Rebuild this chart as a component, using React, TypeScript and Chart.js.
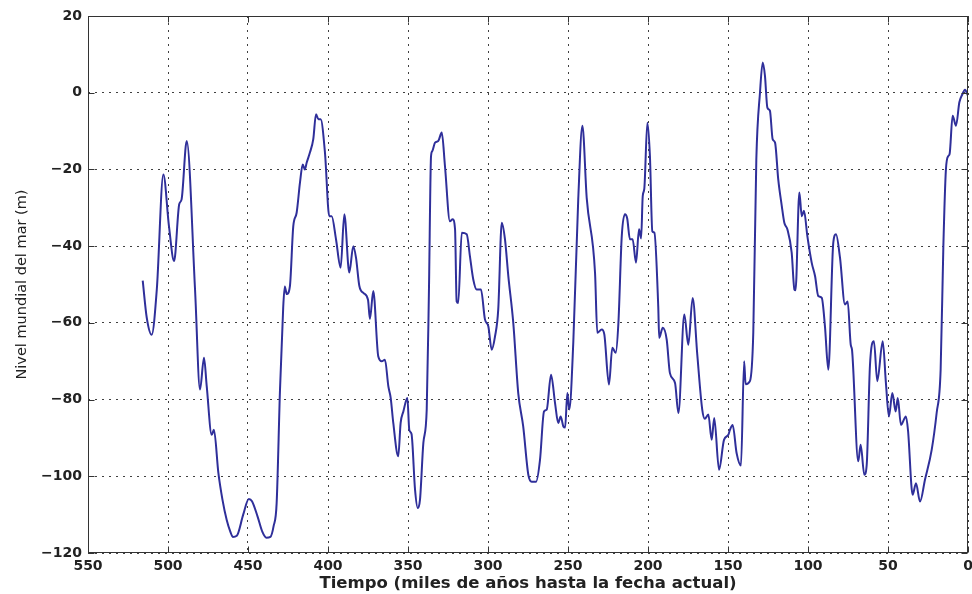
import React, { useEffect, useRef } from "react";
import { Chart, registerables } from "chart.js";

Chart.register(...registerables);

// Age in thousands of years before present (x axis, reversed)
const ages: number[] = [
  515.8, 513.3, 510.2, 507.0, 502.9, 499.4, 496.2, 493.0, 491.5, 488.3,
  483.1, 480.0, 477.5, 475.8, 472.7, 471.3, 468.5, 466.0, 463.3, 461.0,
  459.5, 457.0, 453.0, 449.5, 447.5, 444.0, 441.0, 438.5, 436.0, 434.0,
  432.1, 430.0, 428.0, 427.0, 425.8, 423.8, 421.7, 419.6,
  417.5, 415.8, 414.5, 413.3, 411.3, 409.2, 407.5, 406.0, 404.6, 401.9,
  399.2, 397.7, 395.0, 392.1, 389.8, 386.7, 384.2, 382.5, 380.4, 377.9,
  375.0, 373.8, 371.7, 368.6, 366.4, 364.4, 362.3, 360.8, 359.2, 356.1,
  354.6, 352.9, 350.4, 349.2, 347.8, 345.6, 343.9, 342.5, 340.4, 338.3,
  336.9, 335.6, 334.8, 333.1, 331.1, 328.9, 326.9, 323.8, 322.1, 320.6,
  319.6, 318.6, 316.4, 313.3, 311.3, 309.2, 307.1, 304.4, 301.9, 299.8,
  297.7, 295.6, 293.6, 291.4, 289.4, 287.3, 284.2, 281.1, 278.0, 274.8,
  272.7, 270.0, 267.5, 265.0, 263.3, 260.6, 258.1, 256.1, 254.6, 252.9,
  251.8, 250.4, 249.2, 246.7, 243.6, 241.0, 238.3, 233.1, 231.7, 228.9,
  227.3, 224.4, 222.3, 220.2, 218.5, 216.4, 214.4, 213.0, 211.3, 209.6,
  207.5, 205.6, 204.3, 203.3, 202.3, 200.4, 198.8, 197.3, 196.0, 193.6,
  193.0, 190.8, 188.3, 186.3, 183.1, 181.0, 177.3, 174.8, 172.1, 169.2,
  166.1, 164.5, 162.3, 160.2, 158.6, 155.6, 152.5, 149.8, 148.8, 147.1,
  144.6, 141.9, 139.9, 139.0, 136.3, 134.2, 132.3, 130.0, 128.3, 126.9,
  125.4, 123.8, 122.1, 120.6, 118.6, 116.4, 114.8, 112.9, 110.2, 108.5,
  107.8, 105.4, 103.9, 102.5, 100.4, 97.7, 95.6, 93.6, 91.4, 89.4,
  87.3, 84.2, 82.5, 80.0, 76.9, 75.2, 73.3, 72.5, 68.6, 67.1,
  64.8, 63.3, 61.3, 58.8, 56.7, 53.3, 51.3, 49.4, 47.3, 45.2,
  43.9, 41.9, 38.8, 37.5, 34.6, 32.5, 30.0, 26.9, 22.7, 19.6,
  17.1, 15.4, 13.8, 12.3, 11.5, 9.6, 7.5, 5.4, 3.5, 1.9,
  0.0,
];

// Global sea level in metres
const seaLevel: number[] = [
  -49.0, -58.6, -63.1, -51.3, -21.3, -34.8, -43.9, -29.1, -27.8, -12.6,
  -51.3, -77.4, -69.1, -76.5, -89.2, -87.9, -99.2, -106.0, -111.4, -114.5,
  -115.8, -115.5, -110.0, -105.9, -106.5, -110.5, -114.5, -116.0, -115.8, -113.0,
  -107.0, -77.4, -56.0, -50.5, -52.5, -50.4, -34.8, -31.3,
  -23.4, -18.7, -20.0, -18.2, -15.6, -12.1, -5.6, -6.9, -6.9, -15.6,
  -32.2, -32.2, -38.2, -45.6, -31.7, -46.9, -40.0, -43.0, -50.4, -52.2,
  -54.0, -59.0, -51.7, -68.7, -70.0, -69.6, -76.5, -79.6, -86.1, -94.8,
  -86.1, -83.1, -79.6, -87.9, -89.0, -103.5, -108.3, -106.1, -91.3, -82.6,
  -51.3, -16.5, -15.2, -13.0, -12.6, -10.4, -19.1, -33.5, -33.0, -35.6,
  -54.4, -54.8, -36.5, -36.9, -42.6, -48.7, -51.3, -51.3, -59.1, -60.9,
  -67.0, -63.5, -56.5, -33.9, -38.2, -47.8, -60.0, -78.3, -87.0, -99.6,
  -101.4, -101.4, -95.7, -83.1, -82.6, -73.5, -80.9, -86.1, -84.4, -87.0,
  -87.3, -78.3, -82.6, -65.2, -27.8, -8.6, -27.5, -47.0, -62.6, -61.7,
  -63.0, -76.1, -66.5, -67.8, -60.0, -37.4, -31.7, -32.8, -38.2, -38.2,
  -44.3, -35.6, -38.0, -27.0, -25.0, -7.8, -16.5, -36.1, -36.5, -55.7,
  -63.9, -61.3, -64.4, -73.1, -75.7, -83.5, -57.8, -65.7, -53.5, -68.3,
  -82.6, -85.0, -83.9, -90.5, -84.8, -98.3, -90.5, -89.2, -87.9, -86.6,
  -94.0, -97.2, -70.0, -76.0, -75.2, -62.6, -17.5, 0.1, 7.9, 4.4,
  -3.9, -4.7, -12.1, -13.0, -22.6, -29.5, -33.9, -35.6, -41.7, -51.3,
  -51.5, -26.0, -32.2, -30.8, -37.4, -44.3, -47.8, -53.0, -53.5, -60.9,
  -72.2, -39.1, -36.9, -43.0, -55.2, -54.4, -65.7, -67.0, -96.1, -91.8,
  -99.6, -97.0, -71.3, -64.8, -75.2, -64.8, -75.7, -84.4, -78.3, -83.1,
  -79.6, -86.6, -84.4, -88.0, -104.8, -101.8, -106.6, -100.9, -93.1, -83.5,
  -72.2, -40.0, -20.0, -16.5, -16.0, -6.0, -8.6, -2.5, -0.4, 0.75,
  -0.8,
];

const xTitle = "Tiempo (miles de años hasta la fecha actual)";
const yTitle = "Nivel mundial del mar (m)";
const xMin = 0;
const xMax = 550;
const xStep = 50;
const yMin = -120;
const yMax = 20;
const yStep = 20;

const FONT = "'DejaVu Sans', 'Liberation Sans', Arial, sans-serif";

const fmt = (v: number | string) => {
  const n = Number(v);
  return n < 0 ? "\u2212" + Math.abs(n) : String(n);
};

const framePlugin = {
  id: "matlabFrame",
  afterDraw(chart: any) {
    const { ctx, chartArea: a, scales } = chart;
    const L = Math.round(a.left) + 0.5;
    const R = Math.round(a.right) - 0.5;
    const T = Math.round(a.top) + 0.5;
    const B = Math.round(a.bottom) - 0.5;
    ctx.save();
    ctx.strokeStyle = "#333";
    ctx.lineWidth = 1;
    ctx.setLineDash([]);
    ctx.strokeRect(L, T, R - L, B - T);
    ctx.beginPath();
    const tl = 6;
    for (const t of scales.x.ticks) {
      const px = Math.round(scales.x.getPixelForValue(t.value)) + 0.5;
      ctx.moveTo(px, B);
      ctx.lineTo(px, B - tl);
      ctx.moveTo(px, T);
      ctx.lineTo(px, T + tl);
    }
    for (const t of scales.y.ticks) {
      const py = Math.round(scales.y.getPixelForValue(t.value)) + 0.5;
      ctx.moveTo(L, py);
      ctx.lineTo(L + tl, py);
      ctx.moveTo(R, py);
      ctx.lineTo(R - tl, py);
    }
    ctx.stroke();
    ctx.restore();
  },
};

export default function App() {
  const ref = useRef<HTMLCanvasElement | null>(null);

  useEffect(() => {
    if (!ref.current) return;
    const points = ages.map((a, i) => ({ x: a, y: seaLevel[i] }));
    const chart = new Chart(ref.current, {
      type: "line",
      data: {
        datasets: [
          {
            data: points,
            borderColor: "#2f2f9a",
            borderWidth: 2,
            pointRadius: 0,
            cubicInterpolationMode: "monotone",
            fill: false,
            borderJoinStyle: "round",
          },
        ],
      },
      options: {
        responsive: false,
        animation: false,
        events: [],
        layout: { padding: { top: 16, right: 4, left: 0, bottom: 0 } },
        plugins: {
          legend: { display: false },
          tooltip: { enabled: false },
        },
        scales: {
          x: {
            type: "linear",
            reverse: true,
            min: xMin,
            max: xMax,
            afterFit: (s: any) => {
              s.height = 41;
              s.paddingLeft = 0;
              s.paddingRight = 0;
            },
            ticks: {
              stepSize: xStep,
              color: "#222",
              padding: 5,
              maxRotation: 0,
              font: { family: FONT, size: 14, weight: "bold" },
              callback: (v: any) => fmt(v),
            },
            grid: {
              color: "rgba(30,30,30,0.85)",
              lineWidth: 1,
              drawTicks: false,
            },
            border: { display: false, dash: [2, 5] },
            title: {
              display: true,
              text: xTitle,
              color: "#222",
              padding: { top: 0, bottom: 0 },
              font: { family: FONT, size: 16.5, weight: "bold" },
            },
          },
          y: {
            type: "linear",
            min: yMin,
            max: yMax,
            afterFit: (s: any) => {
              s.width = 88;
            },
            ticks: {
              stepSize: yStep,
              color: "#222",
              padding: 6,
              font: { family: FONT, size: 14, weight: "bold" },
              callback: (v: any) => fmt(v),
            },
            grid: {
              color: "rgba(30,30,30,0.85)",
              lineWidth: 1,
              drawTicks: false,
            },
            border: { display: false, dash: [2, 5] },
            title: {
              display: true,
              text: yTitle,
              color: "#222",
              padding: { top: 14, bottom: 0 },
              font: { family: FONT, size: 14.5, weight: "normal" },
            },
          },
        },
      },
      plugins: [framePlugin],
    } as any);
    return () => chart.destroy();
  }, []);

  return (
    <div style={{ position: "absolute", left: 0, top: 0, width: 972, height: 594, background: "#fff" }}>
      <canvas ref={ref} width={972} height={594} style={{ display: "block" }} />
    </div>
  );
}
